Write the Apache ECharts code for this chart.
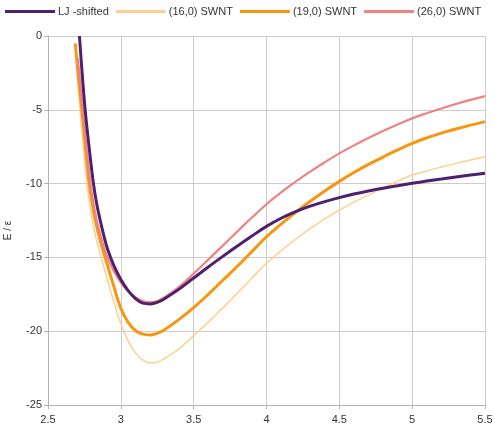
<!DOCTYPE html>
<html><head><meta charset="utf-8">
<script src="https://cdn.jsdelivr.net/npm/echarts@6/dist/echarts.min.js"></script>
<style>html,body{margin:0;padding:0;background:#fff}#c{width:495px;height:439px}</style>
</head><body><div id="c"></div>
<script>
const seriesNames = ['LJ -shifted', '(16,0) SWNT', '(19,0) SWNT', '(26,0) SWNT'];
const xTicks = [2.5, 3, 3.5, 4, 4.5, 5, 5.5];
const yTicks = [-25, -20, -15, -10, -5, 0];

const ljX = [2.716, 2.735, 2.755, 2.783, 2.812, 2.835, 2.858, 2.885, 2.911, 2.95, 3.0, 3.05, 3.1, 3.15, 3.2, 3.25, 3.3, 3.4, 3.5, 3.6, 3.7, 3.8, 3.9, 4.0, 4.1, 4.2, 4.3, 4.4, 4.5, 4.6, 4.7, 4.8, 4.9, 5.0, 5.1, 5.2, 5.3, 5.4, 5.5];
const ljY = [0, -2.6, -5, -7.6, -10, -11.4, -12.47, -13.6, -14.5, -15.5, -16.5, -17.25, -17.8, -18.1, -18.15, -18.05, -17.8, -17.15, -16.4, -15.65, -14.93, -14.23, -13.55, -12.9, -12.35, -11.9, -11.53, -11.22, -10.95, -10.71, -10.5, -10.31, -10.14, -9.98, -9.83, -9.69, -9.55, -9.42, -9.3];

const s16X = [2.70, 2.72, 2.745, 2.772, 2.80, 2.835, 2.87, 2.91, 2.95, 3.0, 3.05, 3.1, 3.15, 3.2, 3.25, 3.3, 3.4, 3.5, 3.6, 3.7, 3.8, 3.9, 4.0, 4.1, 4.2, 4.3, 4.4, 4.5, 4.6, 4.7, 4.8, 4.9, 5.0, 5.1, 5.2, 5.3, 5.4, 5.5];
const s16Y = [-2.5, -5, -7.8, -10.3, -12.3, -13.9, -15.2, -16.6, -17.95, -19.5, -20.65, -21.45, -21.95, -22.15, -22.1, -21.85, -21.2, -20.3, -19.4, -18.42, -17.42, -16.4, -15.4, -14.55, -13.77, -13.05, -12.39, -11.8, -11.26, -10.76, -10.29, -9.84, -9.42, -9.14, -8.88, -8.63, -8.4, -8.18];

const s19X = [2.687, 2.71, 2.733, 2.757, 2.783, 2.803, 2.824, 2.857, 2.892, 2.95, 3.0, 3.05, 3.1, 3.15, 3.2, 3.25, 3.3, 3.4, 3.5, 3.6, 3.7, 3.8, 3.9, 4.0, 4.1, 4.2, 4.3, 4.4, 4.5, 4.6, 4.7, 4.8, 4.9, 5.0, 5.1, 5.2, 5.3, 5.4, 5.5];
const s19Y = [-0.5, -2.9, -5, -7.5, -10, -11.3, -12.47, -13.8, -15.0, -16.9, -18.45, -19.4, -19.95, -20.2, -20.25, -20.15, -19.9, -19.2, -18.4, -17.5, -16.55, -15.6, -14.6, -13.6, -12.75, -11.95, -11.2, -10.5, -9.85, -9.25, -8.7, -8.2, -7.72, -7.27, -6.9, -6.58, -6.3, -6.04, -5.8];

const s26X = [2.705, 2.725, 2.747, 2.772, 2.80, 2.83, 2.86, 2.9, 2.95, 3.0, 3.05, 3.1, 3.15, 3.2, 3.25, 3.3, 3.4, 3.5, 3.6, 3.7, 3.8, 3.9, 4.0, 4.1, 4.2, 4.3, 4.4, 4.5, 4.6, 4.7, 4.8, 4.9, 5.0, 5.1, 5.2, 5.3, 5.4, 5.5];
const s26Y = [-1.5, -3.6, -5.8, -8.3, -10.6, -12.3, -13.5, -14.8, -15.9, -16.7, -17.3, -17.7, -17.95, -18.05, -17.95, -17.7, -17.0, -16.1, -15.15, -14.2, -13.25, -12.3, -11.4, -10.6, -9.87, -9.19, -8.55, -7.95, -7.41, -6.91, -6.44, -6.0, -5.58, -5.23, -4.91, -4.61, -4.33, -4.07];

const colors = ['#4e2170', '#ffcf8f', '#f7960f', '#f08282'];
const widths = [3, 1.5, 3, 2.2];

function pairs(xs, ys){ return xs.map((x,i)=>[x, ys[i]]); }
const datasets = [pairs(ljX, ljY), pairs(s16X, s16Y), pairs(s19X, s19Y), pairs(s26X, s26Y)];
const order = [1, 2, 3, 0];

const chart = echarts.init(document.getElementById('c'));
chart.setOption({
  animation: false,
  backgroundColor: '#ffffff',
  textStyle: { fontFamily: 'Liberation Sans, Arial, sans-serif' },
  legend: {
    left: 5, top: 6, right: 0, padding: 0, itemWidth: 50, itemHeight: 3, itemGap: 7,
    icon: 'rect',
    data: seriesNames.map((n, i) => ({ name: n, itemStyle: { color: colors[i] } })),
    textStyle: { fontSize: 11, color: '#333', fontFamily: 'Liberation Sans, Arial, sans-serif', padding: [0, 0, 0, -2] }
  },
  grid: { left: 48, right: 10, top: 36, bottom: 34, containLabel: false, outerBoundsMode: 'none' },
  xAxis: {
    type: 'value', min: xTicks[0], max: xTicks[xTicks.length-1], interval: 0.5,
    axisLine: { show: true, onZero: false, lineStyle: { color: '#b3b3b3' } },
    axisTick: { show: true, length: 4, lineStyle: { color: '#b3b3b3' } },
    splitLine: { show: true, lineStyle: { color: '#cccccc' } },
    axisLabel: { fontSize: 11, color: '#333', margin: 9, formatter: v => String(v) }
  },
  yAxis: {
    type: 'value', min: yTicks[0], max: yTicks[yTicks.length-1], interval: 5,
    name: 'E / ε', nameLocation: 'middle', nameGap: 35, nameRotate: 90,
    nameTextStyle: { fontSize: 10, color: '#333', padding: [0, 20, 0, 0] },
    axisLine: { show: true, lineStyle: { color: '#b3b3b3' } },
    axisTick: { show: true, length: 4, lineStyle: { color: '#b3b3b3' } },
    splitLine: { show: true, lineStyle: { color: '#cccccc' } },
    axisLabel: { fontSize: 11, color: '#333', margin: 6 }
  },
  series: order.map(i => ({
    name: seriesNames[i], type: 'line', data: datasets[i],
    showSymbol: false, symbol: 'none', smooth: 0.4,
    lineStyle: { color: colors[i], width: widths[i] },
    itemStyle: { color: colors[i] },
    clip: true, z: i === 0 ? 5 : 3
  }))
});
</script></body></html>
